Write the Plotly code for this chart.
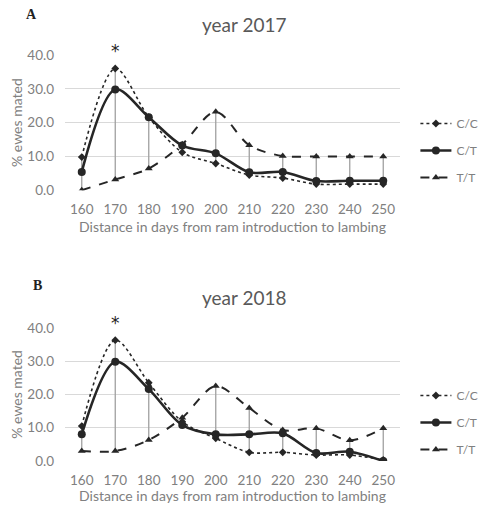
import plotly.graph_objects as go

days = [160, 170, 180, 190, 200, 210, 220, 230, 240, 250]
y_ticks = [0, 10, 20, 30, 40]
y_tick_labels = ["0.0", "10.0", "20.0", "30.0", "40.0"]

cc_2017 = [9.8, 36.0, 21.6, 11.2, 7.9, 4.5, 3.6, 1.8, 1.8, 1.8]
ct_2017 = [5.4, 29.8, 21.6, 13.2, 10.9, 5.3, 5.4, 2.7, 2.8, 2.8]
tt_2017 = [0.0, 3.2, 6.4, 13.6, 23.2, 13.3, 10.1, 10.0, 10.0, 10.0]

cc_2018 = [10.5, 36.3, 23.5, 11.8, 6.8, 2.6, 2.6, 1.8, 1.8, 0.3]
ct_2018 = [8.0, 29.8, 21.6, 10.8, 8.0, 8.0, 8.3, 2.4, 2.8, 0.0]
tt_2018 = [3.0, 3.0, 6.3, 13.0, 22.5, 15.9, 9.3, 9.8, 6.2, 9.8]

series_names = ["C/C", "C/T", "T/T"]
titles = ["year 2017", "year 2018"]
panel_letters = ["A", "B"]

FONT = "Lato"
GRAY_TXT = "#808080"
LINE_COL = "#262626"

fig = go.Figure()

panels = [
    (cc_2017, ct_2017, tt_2017, "x", "y", "legend"),
    (cc_2018, ct_2018, tt_2018, "x2", "y2", "legend2"),
]

for cc, ct, tt, xa, ya, lg in panels:
    # high-low lines
    hx, hy = [], []
    for i, d in enumerate(days):
        vals = [cc[i], ct[i], tt[i]]
        hx += [d, d, None]
        hy += [min(vals), max(vals), None]
    fig.add_trace(go.Scatter(x=hx, y=hy, mode="lines", xaxis=xa, yaxis=ya,
                             line=dict(color="#a0a0a0", width=1.3),
                             showlegend=False, hoverinfo="skip"))
    styles = [
        (cc, "dot", "diamond", 6, 1.6),
        (ct, "solid", "circle", 8, 2.6),
        (tt, "dash", "triangle-up", 7, 2.0),
    ]
    for name, (vals, dash, sym, ms, lw) in zip(series_names, styles):
        fig.add_trace(go.Scatter(
            x=days, y=vals, name=name, mode="lines+markers",
            xaxis=xa, yaxis=ya, legend=lg, legendgroup=lg + name,
            line=dict(color=LINE_COL, width=lw, dash=dash, shape="spline", smoothing=0.9),
            marker=dict(symbol=sym, size=ms, color=LINE_COL),
        ))

axis_common_x = dict(
    range=[155, 255], tickvals=days, ticktext=[str(d) for d in days],
    showgrid=False, zeroline=False, showline=False, ticks="",
    automargin=False, ticklabelstandoff=9,
    tickfont=dict(family=FONT, size=13.5, color=GRAY_TXT),
    title=dict(text="Distance in days from ram introduction to lambing",
               font=dict(family=FONT, size=14, color=GRAY_TXT), standoff=6),
)
axis_common_y = dict(
    range=[0, 40], tickvals=y_ticks, ticktext=y_tick_labels,
    showgrid=True, gridcolor="#d9d9d9", gridwidth=1, zeroline=False,
    showline=False, ticks="", automargin=False, ticklabelstandoff=10,
    tickfont=dict(family=FONT, size=13.5, color=GRAY_TXT),
    title=dict(text="% ewes mated", font=dict(family=FONT, size=14, color=GRAY_TXT),
               standoff=1),
)

legend_common = dict(xanchor="left", yanchor="top",
                     font=dict(family=FONT, size=12, color=GRAY_TXT),
                     traceorder="grouped", tracegroupgap=8, itemwidth=31,
                     bgcolor="rgba(0,0,0,0)")

# page body has an 8px margin, so the figure is drawn smaller and offset
fig.update_layout(
    width=480, height=496,
    margin=dict(l=57, r=88, t=47, b=43, autoexpand=False),
    paper_bgcolor="white", plot_bgcolor="white",
    xaxis=dict(domain=[0, 1], anchor="y", **axis_common_x),
    yaxis=dict(domain=[0.667, 1.0], anchor="x", **axis_common_y),
    xaxis2=dict(domain=[0, 1], anchor="y2", **axis_common_x),
    yaxis2=dict(domain=[0.0, 0.328], anchor="x2", **axis_common_y),
    legend=dict(x=1.046, y=0.867, **legend_common),
    legend2=dict(x=1.046, y=0.197, **legend_common),
    showlegend=True,
)

annotations = []
for i, (title, letter) in enumerate(zip(titles, panel_letters)):
    ty = [25, 297][i]
    ly = [14, 285][i]
    lx = [31, 37][i]
    annotations.append(dict(text=title, xref="paper", yref="paper",
                            x=(244 - 65) / 335, y=1 - (ty - 55) / 406,
                            xanchor="center", yanchor="middle", showarrow=False,
                            font=dict(family=FONT, size=19, color="#595959")))
    annotations.append(dict(text="<b>" + letter + "</b>", xref="paper", yref="paper",
                            x=(lx - 65) / 335, y=1 - (ly - 55) / 406,
                            xanchor="center", yanchor="middle", showarrow=False,
                            font=dict(family="Liberation Serif", size=14, color="#222222")))
annotations.append(dict(text="*", xref="x", yref="y domain", x=170, y=1.03, showarrow=False,
                        yanchor="middle", font=dict(family="DejaVu Sans", size=17, color="#222222")))
annotations.append(dict(text="*", xref="x2", yref="y2 domain", x=170, y=1.04, showarrow=False,
                        yanchor="middle", font=dict(family="DejaVu Sans", size=17, color="#222222")))
fig.update_layout(annotations=annotations)

fig.write_html("out.html")
